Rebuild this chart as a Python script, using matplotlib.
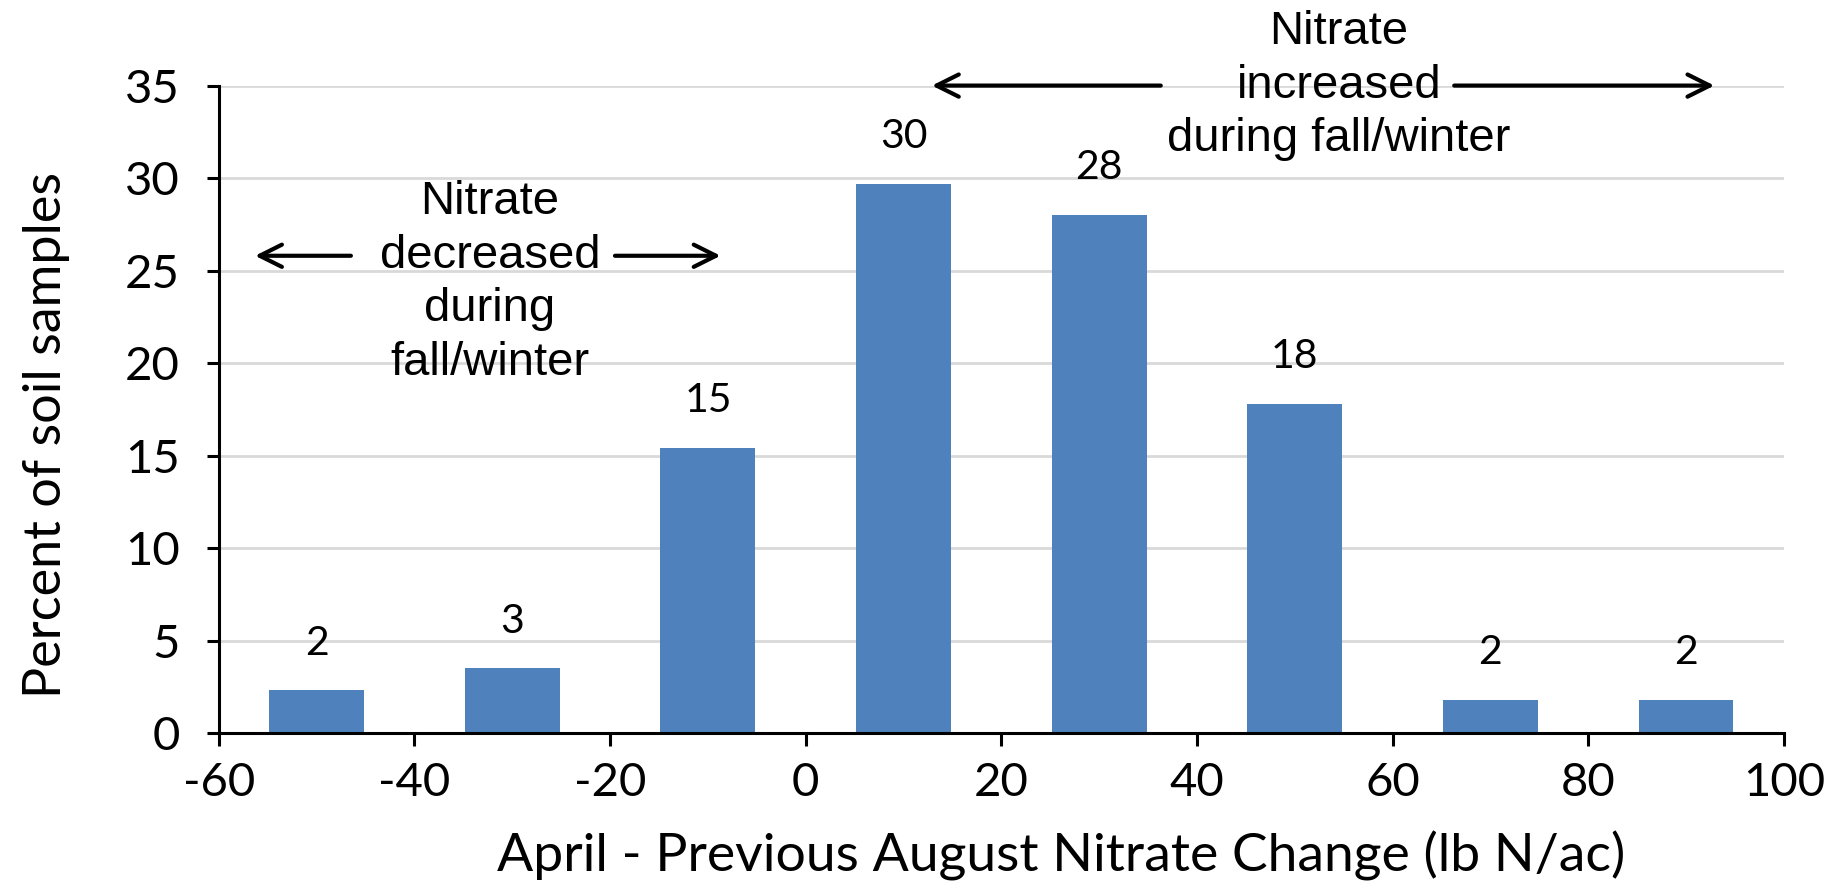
import matplotlib
matplotlib.use("Agg")
import matplotlib.pyplot as plt

plt.rcParams["axes.unicode_minus"] = False

# Data
bin_centers = [-50, -30, -10, 10, 30, 50, 70, 90]
percents = [2.3, 3.5, 15.4, 29.7, 28.0, 17.8, 1.8, 1.8]
bar_labels = ["2", "3", "15", "30", "28", "18", "2", "2"]
x_ticks = [-60, -40, -20, 0, 20, 40, 60, 80, 100]
y_ticks = [0, 5, 10, 15, 20, 25, 30, 35]

bar_color = "#4F81BD"
grid_color = "#D9D9D9"

fig = plt.figure(figsize=(18.39, 8.86), dpi=100)
ax = fig.add_axes([0.119, 0.1727, 0.851, 0.7307])

ax.bar(bin_centers, percents, width=9.7, color=bar_color, zorder=3)

# value labels above bars
for x, h, lab in zip(bin_centers, percents, bar_labels):
    ax.annotate(lab, (x, h), xytext=(0, 34), textcoords="offset points",
                ha="center", va="center", fontsize=29.5, family="Lato")

ax.set_xlim(-60, 100)
ax.set_ylim(0, 35)
ax.set_xticks(x_ticks)
ax.set_yticks(y_ticks)
ax.yaxis.grid(True, color=grid_color, linewidth=2, zorder=0)
ax.set_axisbelow(True)

for s in ["top", "right"]:
    ax.spines[s].set_visible(False)
for s in ["left", "bottom"]:
    ax.spines[s].set_linewidth(2.2)
    ax.spines[s].set_zorder(4)

ax.tick_params(axis="both", direction="out", length=9, width=2.2, labelsize=34)
ax.tick_params(axis="y", pad=19)
ax.tick_params(axis="x", pad=12)
for t in ax.get_xticklabels() + ax.get_yticklabels():
    t.set_family("Lato")

ax.set_xlabel("April - Previous August Nitrate Change (lb N/ac)", fontsize=38.5,
              family="Lato", labelpad=19)
ax.xaxis.label.set_x(0.538)
ax.set_ylabel("Percent of soil samples", fontsize=37.5, family="Lato", labelpad=40)
ax.yaxis.label.set_y(0.46)

# annotations
note_font = dict(fontsize=34, family="Liberation Sans", ha="center", va="center")
arrow = dict(arrowstyle="->", lw=3, mutation_scale=40, color="black",
             shrinkA=0, shrinkB=0)

ax.text(-32.3, 24.35, "Nitrate\ndecreased\nduring\nfall/winter", linespacing=1.28,
        **note_font)
ax.annotate("", xy=(-56.3, 25.8), xytext=(-46.5, 25.8), arrowprops=arrow)
ax.annotate("", xy=(-8.7, 25.8), xytext=(-19.5, 25.8), arrowprops=arrow)

ax.text(54.5, 35.0, "Nitrate\nincreased\nduring fall/winter", linespacing=1.28,
        clip_on=False, **note_font)
ax.annotate("", xy=(12.9, 35.0), xytext=(36.3, 35.0), arrowprops=arrow,
            annotation_clip=False)
ax.annotate("", xy=(92.9, 35.0), xytext=(66.3, 35.0), arrowprops=arrow,
            annotation_clip=False)

fig.savefig("out.png", dpi=100)
